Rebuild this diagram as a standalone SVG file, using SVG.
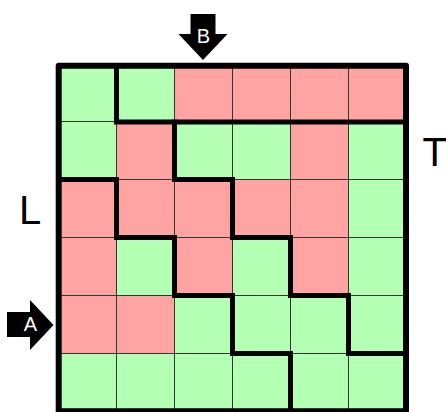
<svg xmlns="http://www.w3.org/2000/svg" width="446" height="412" viewBox="0 0 446 412">
<style>
.g{fill:#b3ffb3}
.r{fill:#ffa3a3}
.thin{stroke:#333;stroke-width:1;fill:none}
.thick{stroke:#000;stroke-width:5;fill:none;stroke-linejoin:miter;stroke-linecap:square}
.border{stroke:#000;stroke-width:6;fill:none;stroke-linejoin:round}
.lbl{font-family:"Liberation Sans",Arial,sans-serif;fill:#000}
.alb{font-family:"Liberation Sans",Arial,sans-serif;fill:#fff;font-size:20px;text-anchor:middle}
</style>
<rect width="446" height="412" fill="#fff"/>
<g id="cells">
<rect class="g" x="58.5" y="65.5" width="58" height="56"/>
<rect class="g" x="116.5" y="65.5" width="58" height="56"/>
<rect class="r" x="174.5" y="65.5" width="58" height="56"/>
<rect class="r" x="232.5" y="65.5" width="58" height="56"/>
<rect class="r" x="290.5" y="65.5" width="58" height="56"/>
<rect class="r" x="348.5" y="65.5" width="58" height="56"/>
<rect class="g" x="58.5" y="121.5" width="58" height="58"/>
<rect class="r" x="116.5" y="121.5" width="58" height="58"/>
<rect class="g" x="174.5" y="121.5" width="58" height="58"/>
<rect class="g" x="232.5" y="121.5" width="58" height="58"/>
<rect class="r" x="290.5" y="121.5" width="58" height="58"/>
<rect class="g" x="348.5" y="121.5" width="58" height="58"/>
<rect class="r" x="58.5" y="179.5" width="58" height="58"/>
<rect class="r" x="116.5" y="179.5" width="58" height="58"/>
<rect class="r" x="174.5" y="179.5" width="58" height="58"/>
<rect class="r" x="232.5" y="179.5" width="58" height="58"/>
<rect class="r" x="290.5" y="179.5" width="58" height="58"/>
<rect class="g" x="348.5" y="179.5" width="58" height="58"/>
<rect class="r" x="58.5" y="237.5" width="58" height="58"/>
<rect class="g" x="116.5" y="237.5" width="58" height="58"/>
<rect class="r" x="174.5" y="237.5" width="58" height="58"/>
<rect class="g" x="232.5" y="237.5" width="58" height="58"/>
<rect class="r" x="290.5" y="237.5" width="58" height="58"/>
<rect class="g" x="348.5" y="237.5" width="58" height="58"/>
<rect class="r" x="58.5" y="295.5" width="58" height="58"/>
<rect class="r" x="116.5" y="295.5" width="58" height="58"/>
<rect class="g" x="174.5" y="295.5" width="58" height="58"/>
<rect class="g" x="232.5" y="295.5" width="58" height="58"/>
<rect class="g" x="290.5" y="295.5" width="58" height="58"/>
<rect class="g" x="348.5" y="295.5" width="58" height="58"/>
<rect class="g" x="58.5" y="353.5" width="348" height="60"/>
</g>
<g id="grid">
<path class="thin" d="M116.5 65V412M174.5 65V412M232.5 65V412M290.5 65V412M348.5 65V412M58 121.5H406M58 179.5H406M58 237.5H406M58 295.5H406M58 353.5H406"/>
</g>
<g id="connectors">
<path class="thick" d="M116.5 66V122H405"/>
<path class="thick" d="M174.5 122V179.5H232.5V237.5H290.5V295.5H348.5V353.5H405"/>
<path class="thick" d="M60 179.5H116.5V237.5H174.5V295.5H232.5V353.5H290.5V412"/>
</g>
<g id="border">
<rect class="border" x="58.7" y="65.7" width="347.3" height="345.6"/>
</g>
<g id="arrowB">
<polygon points="190.5,14 215.5,14 215.5,34 227.5,34 203,60 178.5,34 190.5,34" fill="#000"/>
<text class="alb" x="203.3" y="43.3">B</text>
</g>
<g id="arrowA">
<polygon points="7,312 30,312 30,300 53.5,325 30,350 30,337 7,337" fill="#000"/>
<text class="alb" x="30.3" y="331">A</text>
</g>
<g id="labelL"><text class="lbl" x="19" y="224" font-size="40">L</text></g>
<g id="labelT"><text class="lbl" x="422.5" y="166" font-size="40">T</text></g>
</svg>
